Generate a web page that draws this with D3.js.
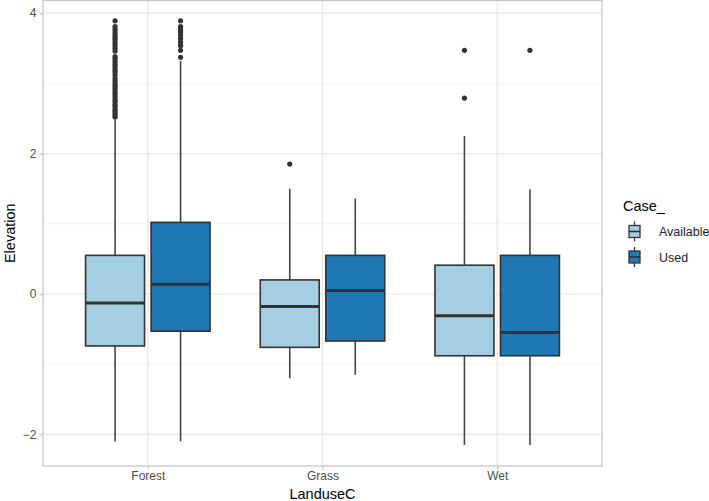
<!DOCTYPE html>
<html>
<head>
<meta charset="utf-8">
<script src="https://cdn.jsdelivr.net/npm/d3@7"></script>
<style>
  body { margin: 0; background: #fff; }
  svg { font-family: "Liberation Sans", Arial, sans-serif; }
</style>
</head>
<body>
<div id="chart-area"></div>
<script>
// data
const landuse = ["Forest", "Grass", "Wet"]
const cases = ["Available", "Used"]
const yTicks = [-2, 0, 2, 4]
const yMinor = [-1, 1, 3]

// one row per box: [landuse, case, lowerWhisker, q1, median, q3, upperWhisker]
const boxStats = [
  ["Forest", "Available", -2.10, -0.74, -0.13, 0.55, 2.48],
  ["Forest", "Used",      -2.10, -0.53,  0.14, 1.02, 3.32],
  ["Grass",  "Available", -1.20, -0.76, -0.18, 0.20, 1.50],
  ["Grass",  "Used",      -1.15, -0.67,  0.05, 0.55, 1.36],
  ["Wet",    "Available", -2.15, -0.88, -0.31, 0.41, 2.25],
  ["Wet",    "Used",      -2.15, -0.88, -0.55, 0.55, 1.49]
]

const outForestAvail = [3.89, 3.81, 3.77, 3.73, 3.69, 3.65, 3.62, 3.58, 3.54, 3.50, 3.46,
  3.38, 3.35, 3.31, 3.27, 3.23, 3.19, 3.16, 3.12, 3.07, 3.03, 2.99, 2.96, 2.92, 2.88,
  2.85, 2.81, 2.77, 2.74, 2.70, 2.67, 2.63, 2.60, 2.57, 2.54, 2.52]
const outForestUsed = [3.89, 3.81, 3.77, 3.73, 3.69, 3.64, 3.59, 3.54, 3.47, 3.37]
const outGrassAvail = [1.85]
const outWetAvail = [3.47, 2.79]
const outWetUsed = [3.47]

const outliers = [
  ["Forest", "Available", outForestAvail],
  ["Forest", "Used", outForestUsed],
  ["Grass", "Available", outGrassAvail],
  ["Wet", "Available", outWetAvail],
  ["Wet", "Used", outWetUsed]
]

const W = 709, H = 501
const PANEL = { LEFT: 43, RIGHT: 602, TOP: 0.5, BOTTOM: 466 }

const svg = d3.select("#chart-area").append("svg")
  .attr("width", W)
  .attr("height", H)

const x = d3.scalePoint()
  .domain(landuse)
  .range([PANEL.LEFT, PANEL.RIGHT])
  .padding(0.6)

const y = d3.scaleLinear()
  .domain([-2.45, 4.18])
  .range([PANEL.BOTTOM, PANEL.TOP])

const color = d3.scaleOrdinal()
  .domain(cases)
  .range(["#a6cee3", "#1f78b4"])

const step = x.step()
const dodge = d3.scaleBand()
  .domain(cases)
  .range([-0.375 * step, 0.375 * step])
const boxW = dodge.bandwidth() * 0.9
const cx = (l, c) => x(l) + dodge(c) + dodge.bandwidth() / 2

// grid
const grid = svg.append("g")
grid.selectAll(".minor").data(yMinor).enter().append("line")
  .attr("x1", PANEL.LEFT).attr("x2", PANEL.RIGHT)
  .attr("y1", d => y(d)).attr("y2", d => y(d))
  .attr("stroke", "#efefef").attr("stroke-width", 0.7)
grid.selectAll(".major").data(yTicks).enter().append("line")
  .attr("x1", PANEL.LEFT).attr("x2", PANEL.RIGHT)
  .attr("y1", d => y(d)).attr("y2", d => y(d))
  .attr("stroke", "#e6e6e6").attr("stroke-width", 1.2)
grid.selectAll(".vmajor").data(landuse).enter().append("line")
  .attr("x1", d => x(d)).attr("x2", d => x(d))
  .attr("y1", PANEL.TOP).attr("y2", PANEL.BOTTOM)
  .attr("stroke", "#e6e6e6").attr("stroke-width", 1.2)

// boxes
const boxes = svg.append("g").selectAll("g").data(boxStats).enter().append("g")

boxes.append("line")
  .attr("x1", d => cx(d[0], d[1])).attr("x2", d => cx(d[0], d[1]))
  .attr("y1", d => y(d[6])).attr("y2", d => y(d[5]))
  .attr("stroke", "#454545").attr("stroke-width", 1.6)
boxes.append("line")
  .attr("x1", d => cx(d[0], d[1])).attr("x2", d => cx(d[0], d[1]))
  .attr("y1", d => y(d[3])).attr("y2", d => y(d[2]))
  .attr("stroke", "#454545").attr("stroke-width", 1.6)
boxes.append("rect")
  .attr("x", d => cx(d[0], d[1]) - boxW / 2)
  .attr("width", boxW)
  .attr("y", d => y(d[5]))
  .attr("height", d => y(d[3]) - y(d[5]))
  .attr("fill", d => color(d[1]))
  .attr("stroke", "#333333").attr("stroke-width", 1.6)
boxes.append("line")
  .attr("x1", d => cx(d[0], d[1]) - boxW / 2).attr("x2", d => cx(d[0], d[1]) + boxW / 2)
  .attr("y1", d => y(d[4])).attr("y2", d => y(d[4]))
  .attr("stroke", "#333333").attr("stroke-width", 3)

// outliers
const pts = outliers.flatMap(o => o[2].map(v => ({ l: o[0], c: o[1], v: v })))
svg.append("g").selectAll("circle").data(pts).enter().append("circle")
  .attr("cx", d => cx(d.l, d.c))
  .attr("cy", d => y(d.v))
  .attr("r", 2.6)
  .attr("fill", "#333333")

// panel border
svg.append("rect")
  .attr("x", PANEL.LEFT).attr("y", PANEL.TOP)
  .attr("width", PANEL.RIGHT - PANEL.LEFT).attr("height", PANEL.BOTTOM - PANEL.TOP)
  .attr("fill", "none").attr("stroke", "#c4c4c4").attr("stroke-width", 1.2)

// axes
const xAxis = svg.append("g")
  .attr("transform", `translate(0,${PANEL.BOTTOM})`)
  .call(d3.axisBottom(x).tickSize(3.5).tickPadding(2))
const yAxis = svg.append("g")
  .attr("transform", `translate(${PANEL.LEFT},0)`)
  .call(d3.axisLeft(y).tickValues(yTicks).tickSize(3.5).tickPadding(3)
    .tickFormat(d => d < 0 ? "\u2212" + Math.abs(d) : d))
;[xAxis, yAxis].forEach(a => {
  a.select(".domain").remove()
  a.selectAll(".tick line").attr("stroke", "#c4c4c4").attr("stroke-width", 1.2)
  a.selectAll(".tick text").attr("fill", "#4d4d4d").attr("font-size", "12px")
    .style("font-family", "Liberation Sans, Arial, sans-serif")
})

svg.append("text")
  .attr("x", (PANEL.LEFT + PANEL.RIGHT) / 2)
  .attr("y", 499)
  .attr("text-anchor", "middle")
  .attr("font-size", "14.5px")
  .text("LanduseC")

svg.append("text")
  .attr("transform", `translate(14.5,${(PANEL.TOP + PANEL.BOTTOM) / 2}) rotate(-90)`)
  .attr("text-anchor", "middle")
  .attr("font-size", "14.5px")
  .text("Elevation")

// legend
const legend = svg.append("g").attr("transform", "translate(623,0)")
legend.append("text")
  .attr("x", 0).attr("y", 211)
  .attr("font-size", "14.5px")
  .text("Case_")

cases.forEach((c, i) => {
  const row = legend.append("g")
    .attr("transform", `translate(0, ${231.5 + i * 25.5})`)
  row.append("line")
    .attr("x1", 11.5).attr("x2", 11.5).attr("y1", -10).attr("y2", 10)
    .attr("stroke", "#333333").attr("stroke-width", 1.3)
  row.append("rect")
    .attr("x", 6).attr("y", -6).attr("width", 11).attr("height", 12)
    .attr("fill", color(c)).attr("stroke", "#333333").attr("stroke-width", 1.3)
  row.append("line")
    .attr("x1", 6).attr("x2", 17).attr("y1", 0).attr("y2", 0)
    .attr("stroke", "#333333").attr("stroke-width", 1.6)
  row.append("text")
    .attr("x", 36).attr("y", 4.5)
    .attr("font-size", "12.5px")
    .attr("fill", "#222")
    .text(c)
})
</script>
</body>
</html>
